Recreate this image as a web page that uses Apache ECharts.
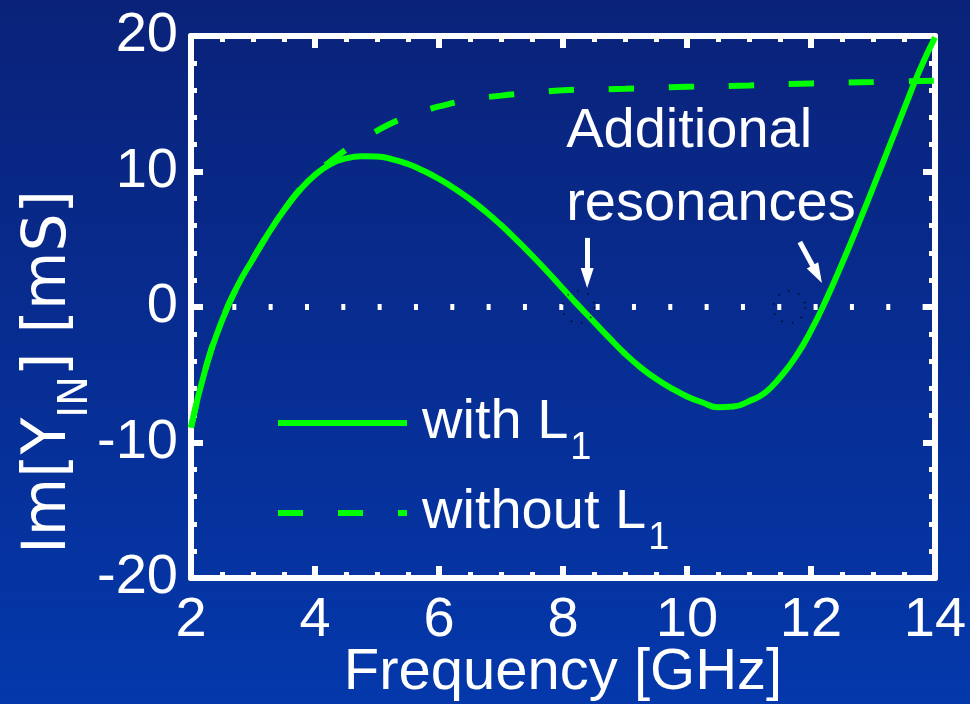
<!DOCTYPE html>
<html>
<head>
<meta charset="utf-8">
<script src="https://cdn.jsdelivr.net/npm/echarts@6/dist/echarts.min.js"></script>
<style>
  html, body { margin: 0; padding: 0; }
  #chart { width: 970px; height: 704px; }
</style>
</head>
<body>
<div id="chart"></div>
<script>
// frequency in GHz, Im[Y_IN] in mS
const freqWith = [2.0, 2.25, 2.5, 2.75, 3.0, 3.25, 3.5, 3.75, 4.0, 4.25, 4.5, 4.75, 5.0, 5.25, 5.5, 5.75, 6.0, 6.25, 6.5, 6.75, 7.0, 7.25, 7.5, 7.75, 8.0, 8.25, 8.5, 8.75, 9.0, 9.25, 9.5, 9.75, 10.0, 10.25, 10.5, 10.75, 11.0, 11.25, 11.5, 11.75, 12.0, 12.25, 12.5, 12.75, 13.0, 13.25, 13.5, 13.75, 14.0]
const imWith = [-8.9, -4.3, -1.0, 1.55, 3.55, 5.45, 7.15, 8.6, 9.75, 10.55, 10.97, 11.12, 11.1, 10.9, 10.55, 10.05, 9.45, 8.75, 7.95, 7.05, 6.05, 4.95, 3.8, 2.6, 1.35, 0.1, -1.1, -2.3, -3.45, -4.45, -5.3, -6.0, -6.6, -7.05, -7.4, -7.35, -6.95, -6.35, -5.2, -3.7, -1.75, 0.6, 3.2, 5.95, 8.8, 11.7, 14.6, 17.45, 19.9]
const freqWithout = [2.0, 2.25, 2.5, 2.75, 3.0, 3.25, 3.5, 3.75, 4.0, 4.25, 4.5, 4.75, 5.0, 5.25, 5.5, 5.75, 6.0, 6.5, 7.0, 7.5, 8.0, 9.0, 10.0, 11.0, 12.0, 13.0, 14.0]
const imWithout = [-8.9, -4.3, -1.0, 1.55, 3.55, 5.45, 7.15, 8.65, 9.85, 10.75, 11.6, 12.35, 13.0, 13.6, 14.05, 14.45, 14.8, 15.3, 15.6, 15.8, 16.0, 16.1, 16.25, 16.35, 16.5, 16.6, 16.7]
const seriesNames = ['with L1', 'without L1']
const xRange = [2, 14, 2]
const yRange = [-20, 20, 10]

// annotations
const resonances = [[8.25, 0], [11.65, 0]]
const arrowFrom = [[8.39, 5.1], [11.82, 4.8]]
const arrowTo = [[8.39, 2.14], [12.1, 2.42]]
const notePos = [8.06, 15.6]
const noteText = 'Additional\nresonances'

const font = "'Liberation Sans', Arial, sans-serif"
const green = '#00ff00'

function zip(xs, ys) {
  return xs.map((x, i) => [x, ys[i]])
}

function frameAxis(pos, range, minorSplit, extra) {
  return Object.assign({
    type: 'value',
    position: pos,
    min: range[0],
    max: range[1],
    interval: range[2],
    axisLine: { show: true, onZero: false, lineStyle: { color: '#fff', width: 6 } },
    axisTick: { show: true, inside: true, length: 12, lineStyle: { color: '#fff', width: 6 } },
    minorTick: { show: true, splitNumber: minorSplit, length: 6, lineStyle: { color: '#fff', width: 5 } },
    splitLine: { show: false },
    axisLabel: { show: false }
  }, extra)
}

const chart = echarts.init(document.getElementById('chart'))
chart.setOption({
  animation: false,
  backgroundColor: {
    type: 'linear', x: 0, y: 0, x2: 0, y2: 1,
    colorStops: [{ offset: 0, color: '#0a2279' }, { offset: 1, color: '#0438ab' }]
  },
  grid: { left: 191, right: 35, top: 36, bottom: 126, outerBoundsMode: 'none' },
  legend: {
    data: seriesNames,
    orient: 'vertical',
    left: 270,
    top: 373,
    itemWidth: 129,
    itemHeight: 20,
    itemGap: 0,
    selectedMode: false,
    itemStyle: { opacity: 0 },
    lineStyle: { width: 6 },
    formatter: function (name) {
      return '{t|' + name.slice(0, -1) + '}{s|1}'
    },
    textStyle: {
      color: '#fff',
      fontFamily: font,
      rich: {
        t: { color: '#fff', fontFamily: font, fontSize: 56, lineHeight: 56, padding: [0, 0, 0, 10] },
        s: { color: '#fff', fontFamily: font, fontSize: 38, lineHeight: 56, padding: [52, 0, 0, 2] }
      }
    }
  },
  xAxis: [
    frameAxis('bottom', xRange, 4, {
      axisLabel: { show: true, color: '#fff', fontSize: 56, fontFamily: font, margin: 15 },
      name: 'Frequency [GHz]',
      nameLocation: 'middle',
      nameGap: 66,
      nameMoveOverlap: false,
      nameTextStyle: { color: '#fff', fontSize: 58, fontFamily: font }
    }),
    frameAxis('top', xRange, 4, {})
  ],
  yAxis: [
    frameAxis('left', yRange, 5, {
      axisLabel: { show: true, color: '#fff', fontSize: 56, fontFamily: font, margin: 13 },
      name: '{t|Im[Y}{s|IN}{t|] [mS]}',
      nameLocation: 'middle',
      nameRotate: 90,
      nameGap: 112,
      nameMoveOverlap: false,
      nameTextStyle: {
        color: '#fff',
        padding: [0, 130, 0, 0],
        rich: {
          t: { color: '#fff', fontFamily: "'DejaVu Sans', sans-serif", fontSize: 60, lineHeight: 60 },
          s: { color: '#fff', fontFamily: "'DejaVu Sans', sans-serif", fontSize: 40, lineHeight: 60, padding: [56, 0, 0, 0] }
        }
      }
    }),
    frameAxis('right', yRange, 5, {})
  ],
  series: [
    {
      // dotted zero line
      type: 'line',
      data: [],
      z: 1,
      markLine: {
        silent: true,
        symbol: ['none', 'none'],
        label: { show: false },
        lineStyle: { color: '#fff', width: 6, type: [4, 32.33], dashOffset: -5 },
        data: [{ yAxis: 0 }]
      }
    },
    {
      name: seriesNames[1],
      type: 'line',
      data: zip(freqWithout, imWithout),
      symbol: 'none',
      smooth: true,
      z: 3,
      itemStyle: { color: green },
      lineStyle: { color: green, width: 6, type: [25, 35] }
    },
    {
      name: seriesNames[0],
      type: 'line',
      data: zip(freqWith, imWith),
      symbol: 'none',
      smooth: true,
      z: 4,
      itemStyle: { color: green },
      lineStyle: { color: green, width: 6 }
    },
    {
      type: 'scatter',
      data: resonances,
      symbol: 'circle',
      symbolSize: 32,
      z: 5,
      silent: true,
      itemStyle: { color: 'rgba(0,0,0,0)', borderColor: '#000', borderWidth: 1.5, borderType: [1.5, 9] }
    },
    {
      // arrows and note
      type: 'line',
      data: [],
      z: 6,
      markLine: {
        silent: true,
        symbol: ['none', 'triangle'],
        symbolSize: [13, 20],
        label: { show: false },
        lineStyle: { color: '#fff', width: 5, type: 'solid' },
        data: arrowFrom.map((p, i) => [{ coord: p }, { coord: arrowTo[i] }])
      },
      markPoint: {
        silent: true,
        symbol: 'rect',
        symbolSize: 1,
        itemStyle: { color: 'rgba(0,0,0,0)' },
        label: {
          show: true,
          position: [0, 0],
          align: 'left',
          verticalAlign: 'top',
          formatter: noteText,
          color: '#fff',
          fontFamily: font,
          fontSize: 56,
          lineHeight: 73
        },
        data: [{ coord: notePos, value: 0 }]
      }
    }
  ]
})
</script>
</body>
</html>
